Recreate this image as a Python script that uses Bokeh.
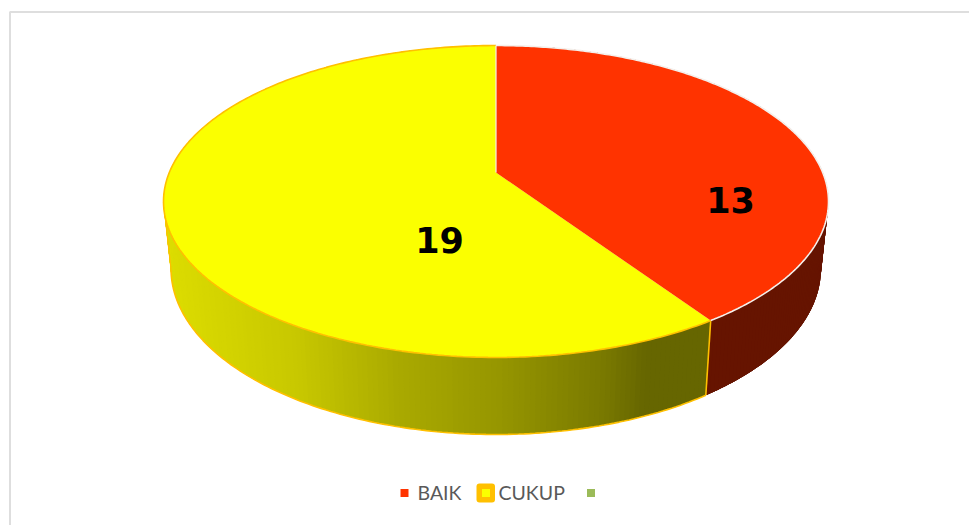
import numpy as np
from bokeh.core.properties import value
from bokeh.embed import file_html
from bokeh.models import ColumnDataSource
from bokeh.plotting import figure
from bokeh.resources import INLINE

# Series
categories = ["BAIK", "CUKUP", ""]
values = [13, 19, 0]
top_colors = ["#FF3300", "#FBFF00", "#9BBB59"]
edge_colors = ["#F4F0EC", "#FFC000", "#9BBB59"]
label_xy = [(730, 199), (439, 239)]

# Pie projection: a circle seen in perspective, for the top face and the base
CENTER_X = 495.5
TILT = 0.1859
TOP = dict(a=326.7, c=172.0, b=-118.6)
BASE = dict(a=319.3, c=237.4, b=-115.9)

# Wall shading of the long slice, left to right (x position, green/red level)
SHADE_X = [165, 300, 400, 500, 600, 645, 710]
SHADE_LEVEL = [222, 200, 170, 150, 122, 102, 102]
RED_WALL = "#661400"


def project(theta, disc):
    """Map a clockwise angle from the back of the pie to page coordinates."""
    u, v = np.sin(theta), np.cos(theta)
    w = 1 + TILT * v
    return CENTER_X + disc["a"] * u / w, (disc["c"] + disc["b"] * v) / w


total = sum(values)
bounds = np.cumsum([0] + values) / total * 2 * np.pi

p = figure(width=969, height=525, x_range=(0, 969), y_range=(525, 0),
           output_backend="svg", toolbar_location=None, min_border=0,
           background_fill_color="white", border_fill_color="white")
p.axis.visible = False
p.grid.visible = False
p.outline_line_color = None

# Chart frame: only the top and left edges show
p.line([9.5, 9.5, 969], [525, 11.5, 11.5], line_color="#DEDEDE", line_width=2)

# Side walls: overlapping facets painted in rim order, so the shading runs
# smoothly with no hairline gaps between neighbours
OVERLAP = 4
for i in (0, 1):
    if values[i] == 0:
        continue
    t = np.linspace(bounds[i], bounds[i + 1], 2 + int(values[i] * 14))
    px, py = project(t, TOP)
    qx, qy = project(t, BASE)
    xs, ys = [], []
    for j in range(len(t) - 1):
        k = min(j + OVERLAP, len(t) - 1)
        xs.append(np.r_[px[j:k + 1], qx[j:k + 1][::-1]])
        ys.append(np.r_[py[j:k + 1], qy[j:k + 1][::-1]])
    if i == 0:
        colors = [RED_WALL] * len(xs)
    else:
        levels = np.interp((qx[:-1] + qx[1:]) / 2, SHADE_X, SHADE_LEVEL)
        colors = ["#%02x%02x00" % (int(l), int(l)) for l in levels]
    p.patches(xs, ys, fill_color=colors, line_color=None)

    if i == 1:
        # Gold trim along the visible lower rim, the left silhouette and the seam
        left = int(np.argmin(qx))
        p.line(list(qx[:left + 1]), list(qy[:left + 1]), line_color="#FFC000", line_width=1.6)
        p.line([px[left], qx[left]], [py[left], qy[left]], line_color="#FFC000", line_width=1.2)
        p.line([px[0], qx[0]], [py[0], qy[0]], line_color="#FFC000", line_width=1.6)

# Top faces
apex_y = TOP["c"]
for i in (1, 0):
    if values[i] == 0:
        continue
    t = np.linspace(bounds[i], bounds[i + 1], 240)
    x, y = project(t, TOP)
    p.patch(np.r_[CENTER_X, x], np.r_[apex_y, y], fill_color=top_colors[i], line_color=None)
    p.line(x, y, line_color=edge_colors[i], line_width=1.6)
x0, y0 = project(bounds[:1], TOP)
p.line([CENTER_X, x0[0]], [apex_y, y0[0]], line_color="#F4F0EC", line_width=1.2)

# Slice values
labels = ColumnDataSource(dict(x=[c[0] for c in label_xy], y=[c[1] for c in label_xy],
                               text=[str(v) for v in values[:2]]))
p.text("x", "y", "text", source=labels, text_font=value("DejaVu Sans"), text_font_style="bold",
       text_font_size="35px", text_color="black", text_align="center", text_baseline="middle")

# Legend row, with the middle entry highlighted
p.quad(left=476, right=494.5, top=483, bottom=502, fill_color="#FFC000", line_color=None, border_radius=3)
for cx, color in zip([404, 485.5, 590.5], top_colors):
    p.quad(left=cx - 4, right=cx + 4, top=488.5, bottom=496.5, fill_color=color, line_color=None)
p.text([417, 498], [492, 492], text=categories[:2], text_font=value("Lato"), text_font_size="19.5px",
       text_color="#595959", text_align="left", text_baseline="middle")

open("out.html", "w").write(file_html(p, INLINE))
